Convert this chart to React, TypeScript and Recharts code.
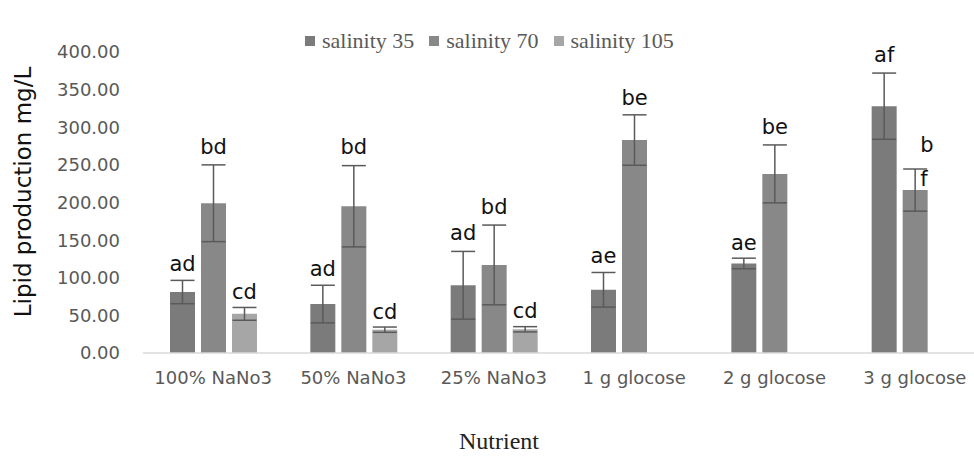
import { Bar, BarChart, ErrorBar, LabelList, Legend, XAxis, YAxis } from 'recharts'

const categories = ['100% NaNo3', '50% NaNo3', '25% NaNo3', '1 g glocose', '2 g glocose', '3 g glocose']

const salinity35 = [81, 65, 90, 84, 119, 328]
const salinity35Err = [15.5, 25, 45, 23, 7, 44]
const salinity35Letters = ['ad', 'ad', 'ad', 'ae', 'ae', 'af']

const salinity70 = [199, 195, 117, 283, 238, 216.5]
const salinity70Err = [51, 54, 53, 33.5, 38.5, 28]
const salinity70Letters = ['bd', 'bd', 'bd', 'be', 'be', 'b\nf']

const salinity105 = [52, 31, 31.5, null, null, null]
const salinity105Err = [8.5, 3.5, 3.5, null, null, null]
const salinity105Letters = ['cd', 'cd', 'cd', '', '', '']

const yTicks = [0, 50, 100, 150, 200, 250, 300, 350, 400]

const seriesNames = ['salinity 35', 'salinity 70', 'salinity 105']
const colors = ['#7b7b7b', '#888888', '#a6a6a6']

const chartData = categories.map((name, i) => ({
  name,
  s35: salinity35[i],
  e35: salinity35Err[i],
  s70: salinity70[i],
  e70: salinity70Err[i],
  s105: salinity105[i],
  e105: salinity105Err[i],
}))

const TOP = 26
const PLOT_H = 327
const Y_MAX = 400
const PX = PLOT_H / Y_MAX

const letterFont = { fontFamily: 'DejaVu Sans', fontSize: 21, fill: '#111' }

function letterLabel(letters: string[], errs: (number | null)[]) {
  return (props: any) => {
    const { x, y, width, index } = props
    const txt = letters[index]
    if (!txt) return null
    const cx = Number(x) + Number(width) / 2
    const top = Number(y) - (errs[index] ?? 0) * PX
    const lines = txt.split('\n')
    if (lines.length > 1) {
      return (
        <g>
          <text x={cx + 5} y={top - 15} textAnchor="start" {...letterFont}>{lines[0]}</text>
          <text x={cx + 5} y={top + 19} textAnchor="start" {...letterFont}>{lines[1]}</text>
        </g>
      )
    }
    return (
      <text x={cx} y={top - 8} textAnchor="middle" {...letterFont}>
        {txt}
      </text>
    )
  }
}

function LegendBox() {
  return (
    <div style={{ display: 'flex', alignItems: 'center', fontFamily: 'Liberation Serif', fontSize: 22, color: '#595959' }}>
      {seriesNames.map((n, i) => (
        <div key={n} style={{ display: 'flex', alignItems: 'center', marginRight: 15 }}>
          <span style={{ width: 10, height: 10, background: colors[i], marginRight: 7, display: 'inline-block' }} />
          <span>{n}</span>
        </div>
      ))}
    </div>
  )
}

export default function App() {
  return (
    <div style={{ position: 'absolute', left: 0, top: 0, width: 974, height: 456, overflow: 'hidden', background: '#fff' }}>
      <BarChart
        width={1000}
        height={456}
        data={chartData}
        margin={{ top: TOP, right: 15, bottom: 63, left: 63 }}
        barCategoryGap={27}
        barGap={6}
      >
        <XAxis
          dataKey="name"
          interval={0}
          height={40}
          tickLine={false}
          axisLine={{ stroke: '#d9d9d9', strokeWidth: 1.5 }}
          tickMargin={12}
          tick={{ fontFamily: 'DejaVu Sans', fontSize: 18, fill: '#595959' }}
          label={{
            content: () => (
              <text x={499} y={449} textAnchor="middle" fontFamily="Liberation Serif" fontSize={24} fill="#222">
                Nutrient
              </text>
            ),
          }}
        />
        <YAxis
          width={80}
          domain={[0, Y_MAX]}
          ticks={yTicks}
          tickFormatter={(v: number) => v.toFixed(2)}
          axisLine={false}
          tickLine={false}
          tickMargin={17}
          tick={{ fontFamily: 'DejaVu Sans', fontSize: 18, fill: '#595959' }}
          label={{
            content: () => (
              <text transform="translate(31,192) rotate(-90)" textAnchor="middle" fontFamily="DejaVu Sans" fontSize={23} fill="#111">
                Lipid production mg/L
              </text>
            ),
          }}
        />
        <Legend
          verticalAlign="top"
          align="left"
          content={() => <LegendBox />}
          wrapperStyle={{ top: 28, left: 305, width: 440 }}
        />
        <Bar dataKey="s35" name={seriesNames[0]} fill={colors[0]} isAnimationActive={false}>
          <ErrorBar dataKey="e35" width={12} stroke="#5a5a5a" strokeWidth={1.5} />
          <LabelList dataKey="s35" content={letterLabel(salinity35Letters, salinity35Err)} />
        </Bar>
        <Bar dataKey="s70" name={seriesNames[1]} fill={colors[1]} isAnimationActive={false}>
          <ErrorBar dataKey="e70" width={12} stroke="#5a5a5a" strokeWidth={1.5} />
          <LabelList dataKey="s70" content={letterLabel(salinity70Letters, salinity70Err)} />
        </Bar>
        <Bar dataKey="s105" name={seriesNames[2]} fill={colors[2]} isAnimationActive={false}>
          <ErrorBar dataKey="e105" width={12} stroke="#5a5a5a" strokeWidth={1.5} />
          <LabelList dataKey="s105" content={letterLabel(salinity105Letters, salinity105Err)} />
        </Bar>
      </BarChart>
    </div>
  )
}
